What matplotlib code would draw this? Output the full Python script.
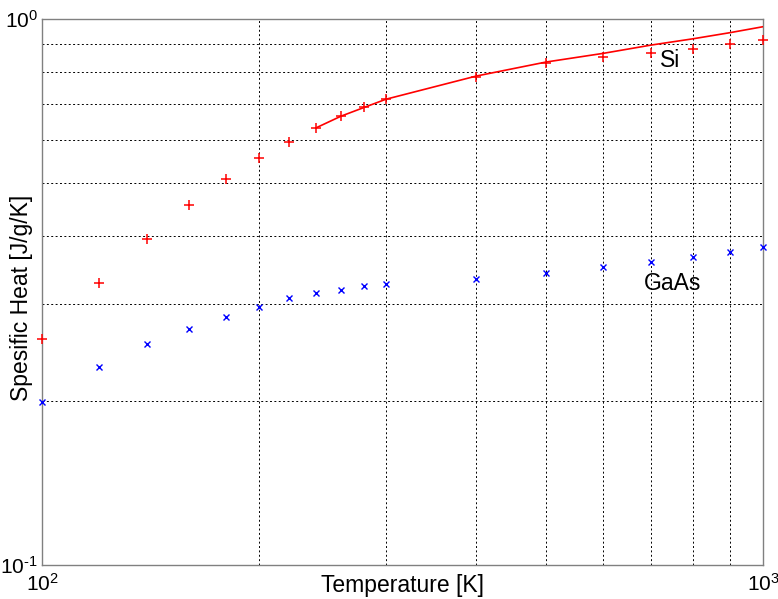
import matplotlib

matplotlib.use("Agg")
import matplotlib.pyplot as plt
from matplotlib.ticker import FuncFormatter, LogLocator, NullFormatter
import numpy as np

plt.rcParams["font.family"] = ["Liberation Sans", "DejaVu Sans"]
plt.rcParams["mathtext.fontset"] = "custom"
plt.rcParams["mathtext.rm"] = "Liberation Sans"
plt.rcParams["mathtext.it"] = "Liberation Sans:italic"
plt.rcParams["mathtext.bf"] = "Liberation Sans:bold"

# measured specific heat, J/g/K
temperature = [100, 120, 140, 160, 180, 200, 220, 240, 260, 280, 300,
               400, 500, 600, 700, 800, 900, 1000]
si_heat = [0.259, 0.328, 0.395, 0.456, 0.509, 0.556, 0.596, 0.632, 0.664, 0.689, 0.713,
           0.784, 0.832, 0.851, 0.868, 0.881, 0.899, 0.915]
gaas_heat = [0.199, 0.230, 0.254, 0.271, 0.284, 0.297, 0.308, 0.315, 0.319, 0.324, 0.327,
             0.334, 0.342, 0.351, 0.359, 0.367, 0.375, 0.383]

# model curve for Si above 240 K
fit_temperature = [240, 260, 280, 300, 400, 500, 600, 700, 800, 900, 1000]
si_fit = [0.632, 0.664, 0.689, 0.713, 0.786, 0.834, 0.865, 0.896, 0.920, 0.944, 0.968]


def decade_label(value, pos):
    # plain hyphen in the exponent, like 10^-1
    exponent = int(round(np.log10(value)))
    return r"$10^{\text{%d}}$" % exponent


fig = plt.figure(figsize=(7.78, 5.99), dpi=100)
ax = fig.add_axes([42 / 778, 34 / 599, 721 / 778, 546 / 599])

ax.plot(fit_temperature, si_fit, color="red", lw=1.2, zorder=3)
ax.plot(temperature, si_heat, ls="none", marker="+", ms=7, mew=1.1, color="red",
        zorder=4, clip_on=False)
ax.plot(temperature, gaas_heat, ls="none", marker="x", ms=4.5, mew=1.0, color="blue",
        zorder=4, clip_on=False)

ax.set_xscale("log")
ax.set_yscale("log")
ax.set_xlim(100, 1000)
ax.set_ylim(0.1, 1)

for axis in (ax.xaxis, ax.yaxis):
    axis.set_major_locator(LogLocator(base=10))
    axis.set_major_formatter(FuncFormatter(decade_label))
    axis.set_minor_locator(LogLocator(base=10, subs=range(2, 10)))
    axis.set_minor_formatter(NullFormatter())

ax.grid(which="minor", color="black", lw=0.7, ls=(0, (2, 2.5)))
ax.tick_params(which="both", length=0, labelsize=15)
ax.tick_params(axis="x", pad=6)
ax.tick_params(axis="y", pad=3)

for spine in ax.spines.values():
    spine.set_color("#808080")
    spine.set_linewidth(1.0)

ax.text(720, 0.841, "Si", fontsize=16.5, va="center", ha="left")
ax.text(684, 0.328, "GaAs", fontsize=16.5, va="center", ha="left")

ax.set_xlabel("Temperature [K]", fontsize=16.5)
ax.set_ylabel("Spesific Heat [J/g/K]", fontsize=16.5)
ax.xaxis.set_label_coords(0.5, -0.017)
ax.yaxis.set_label_coords(-0.012, 0.49)

fig.savefig("out.png", dpi=100)
